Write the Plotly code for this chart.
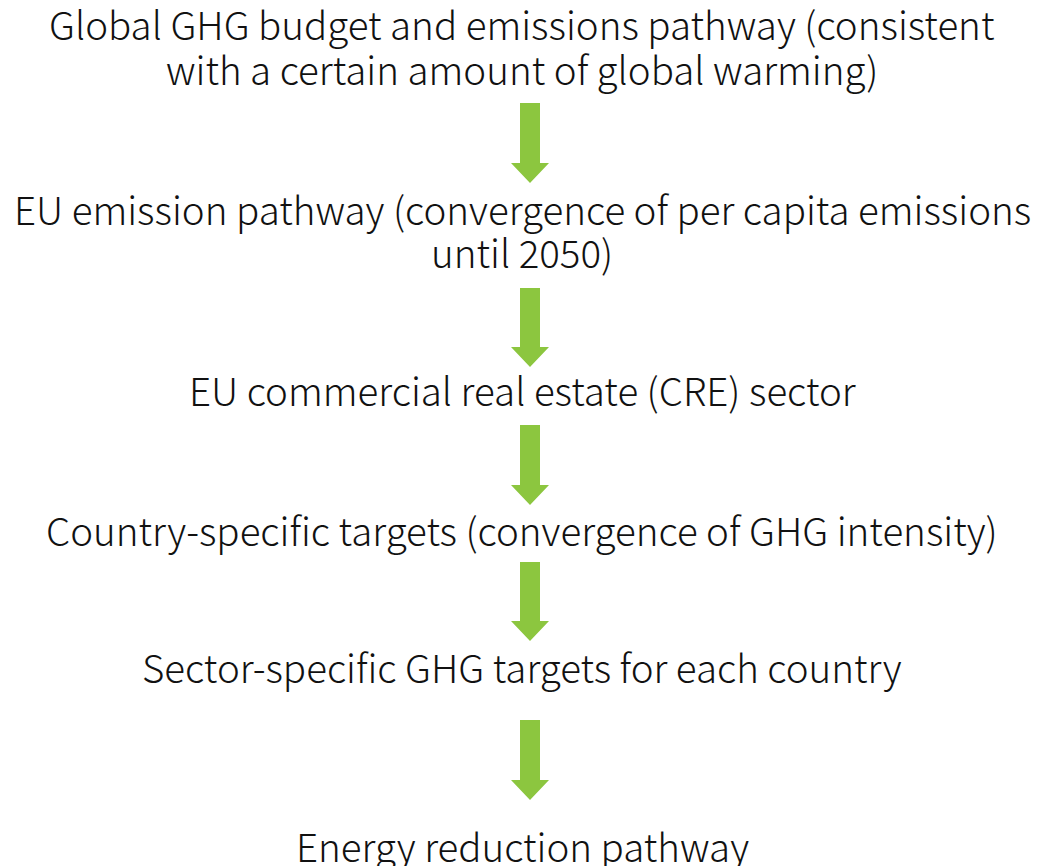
import plotly.graph_objects as go

# Flow steps (each step may span several text lines)
steps = [
    ["Global GHG budget and emissions pathway (consistent",
     "with a certain amount of global warming)"],
    ["EU emission pathway (convergence of per capita emissions",
     "until 2050)"],
    ["EU commercial real estate (CRE) sector"],
    ["Country-specific targets (convergence of GHG intensity)"],
    ["Sector-specific GHG targets for each country"],
    ["Energy reduction pathway"],
]

# layout (pixel coordinates of a 1039x866 canvas)
W, H = 1039, 866
line_y = [[15, 60], [200, 243], [381], [521], [658], [837]]
text_x = 514
arrow_spans = [(95, 175), (280, 359), (417, 497), (554, 633), (712, 792)]
cx = 522
shaft_half, head_half, head_len = 10, 19, 20
green = "#8cc63f"
font = dict(family="Noto Sans CJK JP, Noto Sans, sans-serif", size=38.5, color="#111111",
            weight=300)

fig = go.Figure()
fig.add_trace(go.Scatter(x=[0, W], y=[0, H], mode="markers",
                         marker=dict(opacity=0), hoverinfo="skip", showlegend=False))

for step, ys in zip(steps, line_y):
    for txt, y in zip(step, ys):
        fig.add_annotation(x=text_x, y=y, text=txt, showarrow=False, font=font,
                           xanchor="center", yanchor="middle")

for y0, y1 in arrow_spans:
    yh = y1 - head_len
    path = (f"M {cx-shaft_half},{y0} L {cx+shaft_half},{y0} L {cx+shaft_half},{yh} "
            f"L {cx+head_half},{yh} L {cx},{y1} L {cx-head_half},{yh} "
            f"L {cx-shaft_half},{yh} Z")
    fig.add_shape(type="path", path=path, fillcolor=green, line=dict(width=0))

fig.update_layout(
    width=W, height=H, margin=dict(l=0, r=0, t=0, b=0),
    paper_bgcolor="white", plot_bgcolor="white",
    xaxis=dict(range=[0, W], visible=False, fixedrange=True),
    yaxis=dict(range=[H, 0], visible=False, fixedrange=True),
)
fig.write_html("out.html")
